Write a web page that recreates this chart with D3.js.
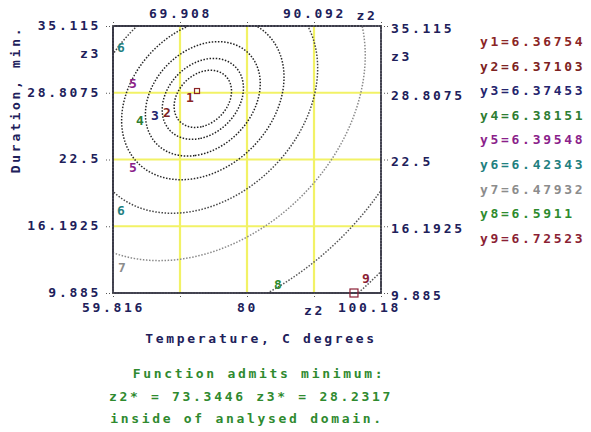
<!DOCTYPE html>
<html><head><meta charset="utf-8">
<script src="https://cdn.jsdelivr.net/npm/d3@7"></script>
<style>
body{margin:0;background:#fff;}
svg text{font-family:"DejaVu Sans Mono","Liberation Mono",monospace;font-weight:bold;font-size:13px;letter-spacing:2.7px;}
</style></head><body>
<svg id="c" width="591" height="432"></svg>
<script>
// ---- data ----
const z2Domain = [59.816, 100.18];
const z3Domain = [9.885, 35.115];
const z2Ticks = [59.816, 69.908, 80, 90.092, 100.18];
const z3Ticks = [9.885, 16.1925, 22.5, 28.8075, 35.115];
const topLabels = ["", "69.908", "", "90.092", ""];
const bottomLabels = ["59.816", "", "80", "z2", "100.18"];
const sideLabels = ["9.885", "16.1925", "22.5", "28.8075", "35.115"];
const levelNames = ["y1","y2","y3","y4","y5","y6","y7","y8","y9"];
const levels = [6.36754, 6.37103, 6.37453, 6.38151, 6.39548, 6.42343, 6.47932, 6.5911, 6.72523];
// fitted quadratic response surface (coefficients)
const optimum = {z2: 73.3446, z3: 28.2317, y: 6.36754};
const coefZ2sq = 2.013e-4, coefZ3sq = 5.153e-4, coefCross = -1.728e-4;
// contour labels (level index, z2, z3)
const contourLabels = [
  [0, 71.41, 28.41], [1, 67.95, 26.99], [2, 66.14, 26.70], [3, 63.88, 26.23],
  [4, 62.83, 29.73], [4, 62.83, 21.79], [5, 61.02, 33.13], [5, 61.02, 17.73],
  [6, 61.17, 12.34], [7, 84.67, 10.74], [8, 97.92, 11.30]
];
const markers = [[72.47, 28.97, 0], [96.11, 9.885, 8]];
const footer = ["Function admits minimum:", "z2* = 73.3446 z3* = 28.2317", "inside of analysed domain."];

// ---- styles ----
const labelColors = ["#8b2525","#7d2222","#25256e","#2e7d32","#8b1f8b","#1f8080","#8c8c8c","#2e8b2e","#8b1f35"];
const lineColors = ["#222","#222","#222","#222","#2a2a2a","#444","#8a8a8a","#555","#555"];
const navy = "#20205a";

const svg = d3.select("#c");
const W = {l:113, r:381, t:26, b:293};
const x = d3.scaleLinear().domain(z2Domain).range([W.l, W.r]);
const y = d3.scaleLinear().domain(z3Domain).range([W.b, W.t]);

// grid lines
svg.append("g").selectAll("line.v").data(z2Ticks.slice(1,4)).join("line")
  .attr("x1", d=>x(d)).attr("x2", d=>x(d)).attr("y1", W.t).attr("y2", W.b)
  .attr("stroke", "#f2f266").attr("stroke-width", 2.2);
svg.append("g").selectAll("line.h").data(z3Ticks.slice(1,4)).join("line")
  .attr("y1", d=>y(d)).attr("y2", d=>y(d)).attr("x1", W.l).attr("x2", W.r)
  .attr("stroke", "#f2f266").attr("stroke-width", 2.2);

// contours
const f = (a,b) => optimum.y + coefZ2sq*(a-optimum.z2)**2 + coefZ3sq*(b-optimum.z3)**2 + coefCross*(a-optimum.z2)*(b-optimum.z3);
const nx = 268, ny = 267;
const gz2 = g => z2Domain[0] + g/nx*(z2Domain[1]-z2Domain[0]);
const gz3 = g => z3Domain[1] - g/ny*(z3Domain[1]-z3Domain[0]);
const vals = new Array(nx*ny);
for (let j=0;j<ny;j++) for (let i=0;i<nx;i++) vals[j*nx+i] = f(gz2(i+0.5), gz3(j+0.5));
const contours = d3.contours().size([nx, ny]).thresholds(levels.slice(1))(vals);
const proj = d3.geoTransform({point(px, py){ this.stream.point(x(gz2(px)), y(gz3(py))); }});
const path = d3.geoPath(proj);
svg.append("g").selectAll("path").data(contours).join("path")
  .attr("d", path).attr("fill", "none")
  .attr("stroke", (d,i)=>lineColors[i+1]).attr("stroke-width", 1.5)
  .attr("stroke-dasharray", "1.5,1.6");

// border
svg.append("rect").attr("x", W.l).attr("y", W.t).attr("width", W.r-W.l).attr("height", W.b-W.t)
  .attr("fill", "none").attr("stroke", "#3a3a4a").attr("stroke-width", 1.6);

// axes
function styleAxis(g){
  g.select(".domain").remove();
  g.selectAll(".tick line").attr("stroke", "#555").attr("stroke-dasharray", "1,2");
  g.selectAll(".tick text").attr("fill", navy);
  g.attr("font-family", null).attr("font-size", null);
}
svg.append("g").attr("transform", `translate(${W.l},0)`)
  .call(d3.axisLeft(y).tickValues(z3Ticks).tickSize(7).tickPadding(5).tickFormat((d,i)=>sideLabels[i]))
  .call(styleAxis).selectAll(".tick text").attr("dy", "0.25em");
svg.append("g").attr("transform", `translate(${W.r},0)`)
  .call(d3.axisRight(y).tickValues(z3Ticks).tickSize(7).tickPadding(3).tickFormat((d,i)=>sideLabels[i]))
  .call(styleAxis).selectAll(".tick text").attr("dy", "0.48em");
svg.append("g").attr("transform", `translate(0,${W.t})`)
  .call(d3.axisTop(x).tickValues(z2Ticks).tickSize(6).tickPadding(2).tickFormat((d,i)=>topLabels[i]))
  .call(styleAxis);
const bx = svg.append("g").attr("transform", `translate(0,${W.b})`)
  .call(d3.axisBottom(x).tickValues(z2Ticks).tickSize(6).tickPadding(4).tickFormat((d,i)=>bottomLabels[i]))
  .call(styleAxis);
bx.selectAll(".tick text").attr("dx", (d,i)=> i===4 ? -12 : 0).attr("dy", (d,i)=> i===3 ? "0.95em" : "0.71em");

// axis names
svg.append("text").attr("x", x(z2Domain[1]) - 14).attr("y", W.t - 6).attr("text-anchor", "middle").attr("fill", navy).text("z2");
svg.append("text").attr("x", W.l - 12).attr("y", y((z3Ticks[3]+z3Ticks[4])/2) - 1).attr("text-anchor", "end").attr("fill", navy).text("z3");
svg.append("text").attr("x", W.r + 10).attr("y", y((z3Ticks[3]+z3Ticks[4])/2) + 2).attr("fill", navy).text("z3");
svg.append("text").attr("transform", `translate(15,${(W.t+W.b)/2 - 60}) rotate(-90)`).attr("text-anchor", "middle")
  .attr("dy", "0.35em").attr("fill", navy).text("Duration, min.");
svg.append("text").attr("x", (W.l+W.r)/2 + 14).attr("y", 343).attr("text-anchor", "middle").attr("fill", navy).text("Temperature, C degrees");

// footer
svg.append("g").selectAll("text").data(footer).join("text")
  .attr("x", (d,i)=>[259,251,247][i]).attr("y", (d,i)=>378 + i*22.5).attr("text-anchor", "middle")
  .attr("fill", "#2f8a2f").text(d=>d);

// legend
svg.append("g").selectAll("text").data(levels).join("text")
  .attr("x", 480).attr("y", (d,i)=>46 + i*24.6).attr("fill", (d,i)=>labelColors[i])
  .text((d,i)=>`${levelNames[i]}=${d}`);

// contour labels
svg.append("g").selectAll("text").data(contourLabels).join("text")
  .attr("x", d=>x(d[1])).attr("y", d=>y(d[2])).attr("text-anchor", "middle").attr("dy", "0.36em")
  .attr("dx", "1.3px").attr("fill", d=>labelColors[d[0]]).text(d=>d[0]+1);

// markers
svg.append("g").selectAll("rect").data(markers).join("rect")
  .attr("x", d=>x(d[0]) - (d[2]?4:2.5)).attr("y", d=>y(d[1]) - (d[2]?4:2.5))
  .attr("width", d=>d[2]?8:5).attr("height", d=>d[2]?8:5)
  .attr("fill", "none").attr("stroke", d=>labelColors[d[2]]).attr("stroke-width", 1.2);
</script>
</body></html>
